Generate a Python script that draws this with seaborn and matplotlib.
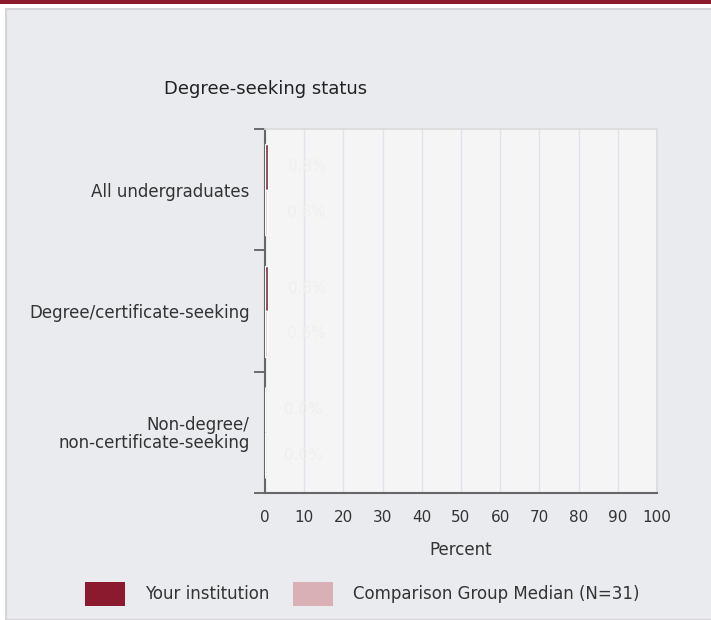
import numpy as np
import pandas as pd
import matplotlib
matplotlib.use("Agg")
import matplotlib.pyplot as plt
from matplotlib.patches import Rectangle
import seaborn as sns

# ── Data ──────────────────────────────────────────────
categories = ["All undergraduates", "Degree/certificate-seeking",
              "Non-degree/\nnon-certificate-seeking"]
series = ["Your institution", "Comparison Group Median (N=31)"]
institution = [0.8, 0.8, 0.0]
comparison = [0.6, 0.6, 0.0]
x_ticks = list(range(0, 101, 10))

# ── Theme ─────────────────────────────────────────────
PANEL_BG = "#eaebef"
AX_BG = "#f5f5f5"
GRID = "#dde3ef"
TEXT = "#333333"
RED = "#8b1a2e"
PINK = "#d9b0b5"
FS = 12

sns.set_theme(style="white")
plt.rcParams["font.family"] = ["DejaVu Sans"]
plt.rcParams["font.size"] = FS

df = pd.DataFrame({
    "category": categories * 2,
    "series": [series[0]] * 3 + [series[1]] * 3,
    "value": institution + comparison,
})

fig = plt.figure(figsize=(7.11, 6.2), dpi=100, facecolor="white")
W, H = 711, 620
fig.patches.append(Rectangle((0, 1 - 4 / H), 1, 4 / H, transform=fig.transFigure,
                             facecolor=RED, edgecolor="none", zorder=-10))
fig.patches.append(Rectangle((6 / W, 0), 1, 1 - 9 / H, transform=fig.transFigure,
                             facecolor=PANEL_BG, edgecolor="#d4d4d8", linewidth=1.5,
                             zorder=-10))

ax = fig.add_axes([265 / W, 1 - 493 / H, (657 - 265) / W, (493 - 129) / H])
ax.set_facecolor(AX_BG)

sns.barplot(data=df, y="category", x="value", hue="series", orient="h",
            palette=[RED, PINK], width=0.75, legend=False, ax=ax, zorder=3)

# faint value labels
for cont in ax.containers:
    ax.bar_label(cont, labels=[f"{v:.1f}%" for v in cont.datavalues],
                 padding=14, color="#efefef", fontsize=11)

ax.set_xlim(0, 100)
ax.set_ylim(2.5, -0.5)
ax.set_xticks(x_ticks)
ax.set_xticklabels([str(t) for t in x_ticks], color=TEXT, fontsize=11)
ax.xaxis.grid(True, color=GRID, linewidth=1, zorder=0)
ax.set_axisbelow(True)
ax.tick_params(axis="x", length=0, pad=12)

# ticks at category boundaries, labels at centers
ax.set_yticks([-0.5, 0.5, 1.5, 2.5])
ax.set_yticklabels([])
ax.set_yticks(range(len(categories)), minor=True)
ax.set_yticklabels(categories, minor=True, color=TEXT, fontsize=FS, ha="right",
                   multialignment="right", linespacing=1.0)
ax.tick_params(axis="y", which="major", length=8, width=1.2, color="#555555", left=True)
ax.tick_params(axis="y", which="minor", length=0, pad=11)

for side in ["top", "right"]:
    ax.spines[side].set_color("#dcdcdc")
for side in ["left", "bottom"]:
    ax.spines[side].set_color("#666666")
    ax.spines[side].set_linewidth(1.5)

ax.set_xlabel("Percent", color=TEXT, fontsize=FS, labelpad=12)
ax.set_ylabel("")

fig.text(266 / W, 1 - 89 / H, "Degree-seeking status", ha="center", va="center",
         color="#222222", fontsize=13)

# legend
for x0, color, label in [(85, RED, series[0]), (293, PINK, series[1])]:
    fig.patches.append(Rectangle((x0 / W, 1 - 606 / H), 40 / W, 24 / H,
                                 transform=fig.transFigure, facecolor=color,
                                 edgecolor="none"))
    fig.text((x0 + 60) / W, 1 - 594 / H, label, ha="left", va="center",
             color=TEXT, fontsize=FS)

fig.savefig("out.png", dpi=100, facecolor=fig.get_facecolor())
